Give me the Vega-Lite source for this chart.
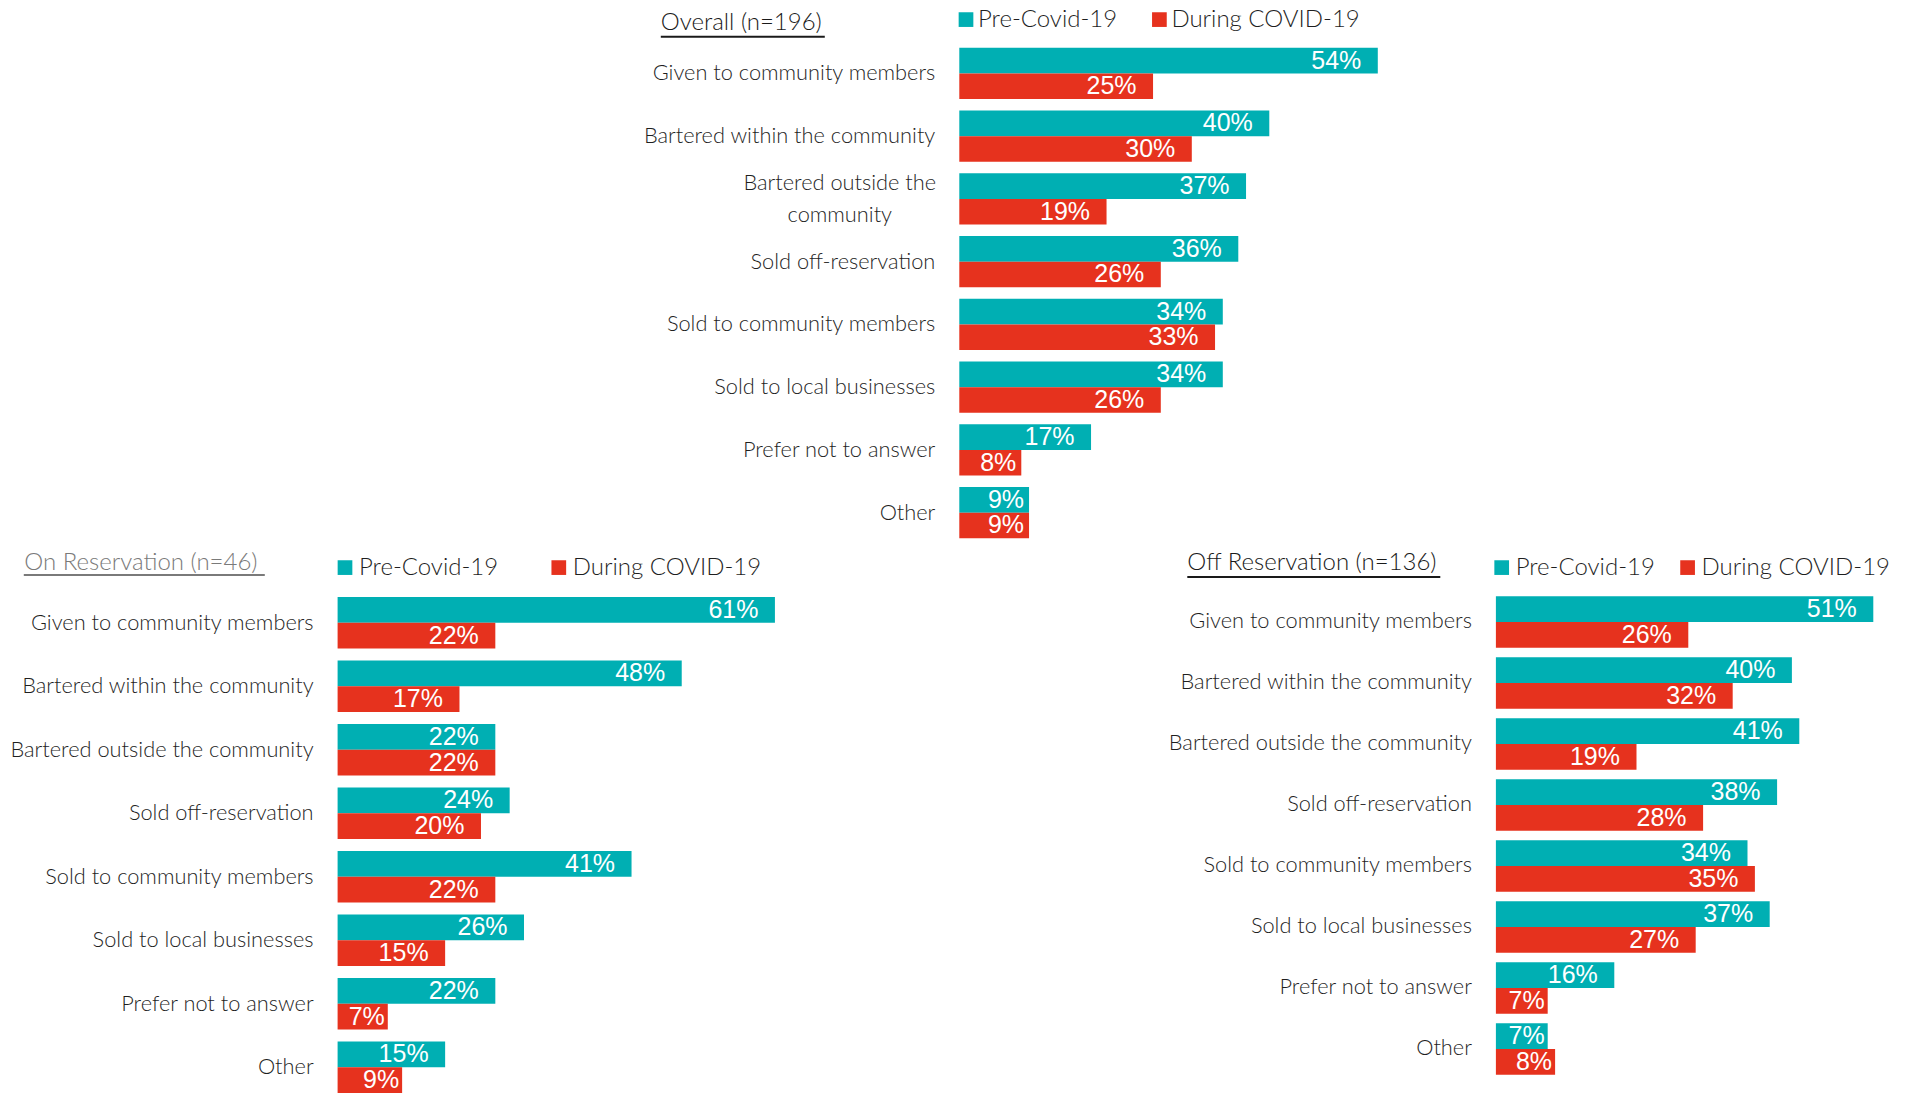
{
  "$schema": "https://vega.github.io/schema/vega-lite/v6.json",
  "padding": {"left": 4.6, "top": 7.0, "right": 5, "bottom": 0},
  "autosize": {"type": "pad"},
  "background": "white",
  "datasets": {
    "overall": [
      {"category": "Given to community members", "period": "Pre-Covid-19", "value": 0.54},
      {"category": "Given to community members", "period": "During COVID-19", "value": 0.25},
      {"category": "Bartered within the community", "period": "Pre-Covid-19", "value": 0.40},
      {"category": "Bartered within the community", "period": "During COVID-19", "value": 0.30},
      {"category": "Bartered outside the community", "period": "Pre-Covid-19", "value": 0.37},
      {"category": "Bartered outside the community", "period": "During COVID-19", "value": 0.19},
      {"category": "Sold off-reservation", "period": "Pre-Covid-19", "value": 0.36},
      {"category": "Sold off-reservation", "period": "During COVID-19", "value": 0.26},
      {"category": "Sold to community members", "period": "Pre-Covid-19", "value": 0.34},
      {"category": "Sold to community members", "period": "During COVID-19", "value": 0.33},
      {"category": "Sold to local businesses", "period": "Pre-Covid-19", "value": 0.34},
      {"category": "Sold to local businesses", "period": "During COVID-19", "value": 0.26},
      {"category": "Prefer not to answer", "period": "Pre-Covid-19", "value": 0.17},
      {"category": "Prefer not to answer", "period": "During COVID-19", "value": 0.08},
      {"category": "Other", "period": "Pre-Covid-19", "value": 0.09},
      {"category": "Other", "period": "During COVID-19", "value": 0.09}
    ],
    "onres": [
      {"category": "Given to community members", "period": "Pre-Covid-19", "value": 0.61},
      {"category": "Given to community members", "period": "During COVID-19", "value": 0.22},
      {"category": "Bartered within the community", "period": "Pre-Covid-19", "value": 0.48},
      {"category": "Bartered within the community", "period": "During COVID-19", "value": 0.17},
      {"category": "Bartered outside the community", "period": "Pre-Covid-19", "value": 0.22},
      {"category": "Bartered outside the community", "period": "During COVID-19", "value": 0.22},
      {"category": "Sold off-reservation", "period": "Pre-Covid-19", "value": 0.24},
      {"category": "Sold off-reservation", "period": "During COVID-19", "value": 0.20},
      {"category": "Sold to community members", "period": "Pre-Covid-19", "value": 0.41},
      {"category": "Sold to community members", "period": "During COVID-19", "value": 0.22},
      {"category": "Sold to local businesses", "period": "Pre-Covid-19", "value": 0.26},
      {"category": "Sold to local businesses", "period": "During COVID-19", "value": 0.15},
      {"category": "Prefer not to answer", "period": "Pre-Covid-19", "value": 0.22},
      {"category": "Prefer not to answer", "period": "During COVID-19", "value": 0.07},
      {"category": "Other", "period": "Pre-Covid-19", "value": 0.15},
      {"category": "Other", "period": "During COVID-19", "value": 0.09}
    ],
    "offres": [
      {"category": "Given to community members", "period": "Pre-Covid-19", "value": 0.51},
      {"category": "Given to community members", "period": "During COVID-19", "value": 0.26},
      {"category": "Bartered within the community", "period": "Pre-Covid-19", "value": 0.40},
      {"category": "Bartered within the community", "period": "During COVID-19", "value": 0.32},
      {"category": "Bartered outside the community", "period": "Pre-Covid-19", "value": 0.41},
      {"category": "Bartered outside the community", "period": "During COVID-19", "value": 0.19},
      {"category": "Sold off-reservation", "period": "Pre-Covid-19", "value": 0.38},
      {"category": "Sold off-reservation", "period": "During COVID-19", "value": 0.28},
      {"category": "Sold to community members", "period": "Pre-Covid-19", "value": 0.34},
      {"category": "Sold to community members", "period": "During COVID-19", "value": 0.35},
      {"category": "Sold to local businesses", "period": "Pre-Covid-19", "value": 0.37},
      {"category": "Sold to local businesses", "period": "During COVID-19", "value": 0.27},
      {"category": "Prefer not to answer", "period": "Pre-Covid-19", "value": 0.16},
      {"category": "Prefer not to answer", "period": "During COVID-19", "value": 0.07},
      {"category": "Other", "period": "Pre-Covid-19", "value": 0.07},
      {"category": "Other", "period": "During COVID-19", "value": 0.08}
    ]
  },
  "spacing": 10.9,
  "resolve": {
    "scale": {"x": "independent", "y": "independent", "color": "independent"},
    "axis": {"x": "independent", "y": "independent"},
    "legend": {"color": "independent"}
  },
  "vconcat": [
    {
      "width": 1086.7,
      "height": 502,
      "resolve": {"scale": {"y": "independent"}, "axis": {"y": "independent"}},
      "layer": [
        {
          "data": {"name": "overall"},
          "encoding": {
            "y": {
              "field": "category", "type": "nominal",
              "sort": ["Given to community members", "Bartered within the community", "Bartered outside the community", "Sold off-reservation", "Sold to community members", "Sold to local businesses", "Prefer not to answer", "Other"],
              "scale": {"paddingInner": 0.18, "paddingOuter": 0.09},
              "axis": {
                "title": null, "domain": false, "ticks": false,
                "offset": -621.7,
                "labelFont": "Lato", "labelFontSize": 21.8, "labelFontWeight": 300, "labelColor": "#1f1f1f", "labelLimit": 600,
                "labelLineHeight": 32,
                "labelExpr": "datum.value === 'Bartered outside the community' ? ['Bartered outside the', 'community'] : datum.label",
                "labelAlign": {"condition": {"test": "datum.value === 'Bartered outside the community'", "value": "center"}, "value": "right"},
                "labelPadding": {"condition": {"test": "datum.value === 'Bartered outside the community'", "value": 120}, "value": 24.5},
                "labelOffset": {"condition": {"test": "datum.value === 'Bartered outside the community'", "value": -16}, "value": 0},
                "minExtent": 0, "maxExtent": 1000
              }
            },
            "yOffset": {"field": "period", "type": "nominal", "sort": ["Pre-Covid-19", "During COVID-19"]},
            "x": {"field": "value", "type": "quantitative", "scale": {"domain": [-0.80219, 0.6], "nice": false, "zero": true}, "axis": null}
          },
          "layer": [
            {
              "mark": {"type": "bar"},
              "encoding": {
                "color": {
                  "field": "period", "type": "nominal",
                  "scale": {"domain": ["Pre-Covid-19", "During COVID-19"], "range": ["#00AFB3", "#E6321E"]},
                  "legend": {"title": "Overall (n=196)", "legendX": 323.2, "legendY": -34.4, "titlePadding": 131.2, "columnPadding": 29.4, "labelOffset": 0, "titleColor": "#1a1a1a", "titleBaseline": "line-top", "titleLineHeight": 6}
                }
              }
            },
            {
              "transform": [{"filter": "datum.value >= 0.095"}],
              "mark": {"type": "text", "align": "right", "baseline": "middle", "dx": -16.5, "font": "Liberation Sans", "fontSize": 25, "color": "white"},
              "encoding": {"text": {"field": "value", "type": "quantitative", "format": ".0%"}}
            },
            {
              "transform": [{"filter": "datum.value < 0.095"}],
              "mark": {"type": "text", "align": "right", "baseline": "middle", "dx": -5, "font": "Liberation Sans", "fontSize": 25, "color": "white"},
              "encoding": {"text": {"field": "value", "type": "quantitative", "format": ".0%"}}
            }
          ]
        },
        {
          "data": {"values": [{}]},
          "mark": {"type": "rule", "color": "#1a1a1a", "strokeWidth": 2},
          "encoding": {
            "x": {"datum": -0.38516, "type": "quantitative"},
            "x2": {"datum": -0.17355},
            "y": {"datum": 1.01036, "type": "quantitative", "scale": {"domain": [0, 1], "nice": false, "zero": false}, "axis": null}
          }
        }
      ]
    },
    {
      "spacing": 373.3,
      "resolve": {
        "scale": {"x": "independent", "y": "independent", "color": "independent"},
        "axis": {"x": "independent", "y": "independent"},
        "legend": {"color": "independent"}
      },
      "hconcat": [
        {
          "width": 444.5,
          "height": 508,
          "resolve": {"scale": {"y": "independent"}, "axis": {"y": "independent"}},
          "layer": [
            {
              "data": {"name": "onres"},
              "encoding": {
                "y": {
                  "field": "category", "type": "nominal",
                  "sort": ["Given to community members", "Bartered within the community", "Bartered outside the community", "Sold off-reservation", "Sold to community members", "Sold to local businesses", "Prefer not to answer", "Other"],
                  "scale": {"paddingInner": 0.19, "paddingOuter": 0.095},
                  "axis": {
                    "title": null, "domain": false, "ticks": false,
                    "labelFont": "Lato", "labelFontSize": 21.8, "labelFontWeight": 300, "labelColor": "#1f1f1f", "labelLimit": 600,
                    "labelPadding": 24.5,
                    "minExtent": 332.8, "maxExtent": 332.8
                  }
                },
                "yOffset": {"field": "period", "type": "nominal", "sort": ["Pre-Covid-19", "During COVID-19"]},
                "x": {"field": "value", "type": "quantitative", "scale": {"domain": [0, 0.62], "nice": false, "zero": true}, "axis": null}
              },
              "layer": [
                {
                  "mark": {"type": "bar"},
                  "encoding": {
                    "color": {
                      "field": "period", "type": "nominal",
                      "scale": {"domain": ["Pre-Covid-19", "During COVID-19"], "range": ["#00AFB3", "#E6321E"]},
                      "legend": {"title": "On Reservation (n=46)", "legendX": -313.3, "legendY": -35.3, "titlePadding": 74.7, "columnPadding": 47.8, "labelOffset": 2, "titleColor": "#7a7a7a", "titleBaseline": "line-bottom", "titleLineHeight": 9}
                    }
                  }
                },
                {
                  "transform": [{"filter": "datum.value >= 0.095"}],
                  "mark": {"type": "text", "align": "right", "baseline": "middle", "dx": -16.5, "font": "Liberation Sans", "fontSize": 25, "color": "white"},
                  "encoding": {"text": {"field": "value", "type": "quantitative", "format": ".0%"}}
                },
                {
                  "transform": [{"filter": "datum.value < 0.095"}],
                  "mark": {"type": "text", "align": "right", "baseline": "middle", "dx": -3, "font": "Liberation Sans", "fontSize": 25, "color": "white"},
                  "encoding": {"text": {"field": "value", "type": "quantitative", "format": ".0%"}}
                }
              ]
            },
            {
              "data": {"values": [{}]},
              "mark": {"type": "rule", "color": "#7a7a7a", "strokeWidth": 2},
              "encoding": {
                "x": {"datum": -0.43772, "type": "quantitative"},
                "x2": {"datum": -0.10155},
                "y": {"datum": 1.0315, "type": "quantitative", "scale": {"domain": [0, 1], "nice": false, "zero": false}, "axis": null}
              }
            }
          ]
        },
        {
          "width": 414.4,
          "height": 488,
          "resolve": {"scale": {"y": "independent"}, "axis": {"y": "independent"}},
          "layer": [
            {
              "data": {"name": "offres"},
              "encoding": {
                "y": {
                  "field": "category", "type": "nominal",
                  "sort": ["Given to community members", "Bartered within the community", "Bartered outside the community", "Sold off-reservation", "Sold to community members", "Sold to local businesses", "Prefer not to answer", "Other"],
                  "scale": {"paddingInner": 0.177, "paddingOuter": 0.0885},
                  "axis": {
                    "title": null, "domain": false, "ticks": false,
                    "labelFont": "Lato", "labelFontSize": 21.8, "labelFontWeight": 300, "labelColor": "#1f1f1f", "labelLimit": 600,
                    "labelPadding": 24.5,
                    "minExtent": 340, "maxExtent": 340
                  }
                },
                "yOffset": {"field": "period", "type": "nominal", "sort": ["Pre-Covid-19", "During COVID-19"]},
                "x": {"field": "value", "type": "quantitative", "scale": {"domain": [0, 0.56], "nice": false, "zero": true}, "axis": null}
              },
              "layer": [
                {
                  "mark": {"type": "bar"},
                  "encoding": {
                    "color": {
                      "field": "period", "type": "nominal",
                      "scale": {"domain": ["Pre-Covid-19", "During COVID-19"], "range": ["#00AFB3", "#E6321E"]},
                      "legend": {"title": "Off Reservation (n=136)", "legendX": -308.6, "legendY": -35.3, "titlePadding": 52.4, "columnPadding": 19.9, "labelOffset": 2, "titleColor": "#1a1a1a", "titleBaseline": "line-bottom", "titleLineHeight": 9}
                    }
                  }
                },
                {
                  "transform": [{"filter": "datum.value >= 0.095"}],
                  "mark": {"type": "text", "align": "right", "baseline": "middle", "dx": -16.5, "font": "Liberation Sans", "fontSize": 25, "color": "white"},
                  "encoding": {"text": {"field": "value", "type": "quantitative", "format": ".0%"}}
                },
                {
                  "transform": [{"filter": "datum.value < 0.095"}],
                  "mark": {"type": "text", "align": "right", "baseline": "middle", "dx": -3, "font": "Liberation Sans", "fontSize": 25, "color": "white"},
                  "encoding": {"text": {"field": "value", "type": "quantitative", "format": ".0%"}}
                }
              ]
            },
            {
              "data": {"values": [{}]},
              "mark": {"type": "rule", "color": "#1a1a1a", "strokeWidth": 2},
              "encoding": {
                "x": {"datum": -0.41703, "type": "quantitative"},
                "x2": {"datum": -0.07514},
                "y": {"datum": 1.02869, "type": "quantitative", "scale": {"domain": [0, 1], "nice": false, "zero": false}, "axis": null}
              }
            }
          ]
        }
      ]
    }
  ],
  "config": {
    "view": {"stroke": null},
    "legend": {
      "orient": "none",
      "direction": "horizontal",
      "titleOrient": "left",
      "titleFont": "Lato",
      "titleFontSize": 24,
      "titleFontWeight": 300,
      "labelFont": "Lato",
      "labelFontSize": 24,
      "labelFontWeight": 300,
      "labelColor": "#1f1f1f",
      "labelOffset": 0,
      "symbolType": "square",
      "symbolSize": 216,
      "symbolStrokeWidth": 0,
      "symbolOpacity": 1,
      "padding": 0,
      "offset": 0,
      "labelLimit": 400,
      "titleLimit": 400
    }
  }
}
